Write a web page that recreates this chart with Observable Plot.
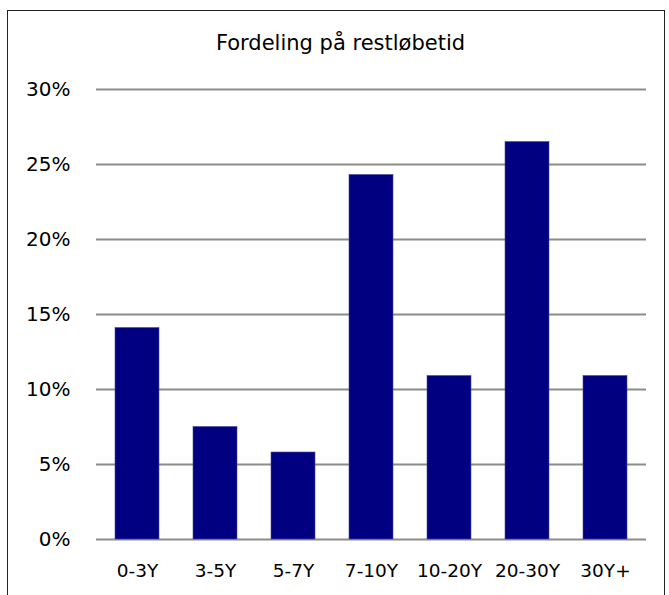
<!DOCTYPE html>
<html>
<head>
<meta charset="utf-8">
<script src="https://cdn.jsdelivr.net/npm/d3@7"></script>
<script src="https://cdn.jsdelivr.net/npm/@observablehq/plot@0.6"></script>
<style>
  html, body { margin: 0; padding: 0; background: #fff; overflow: hidden; }
  #frame {
    position: absolute; left: 7px; top: 10px; width: 658px; height: 600px;
    border: 1px solid #222; box-sizing: border-box;
  }
  #title {
    position: absolute; left: 6px; width: 669px; top: 31px; text-align: center;
    font-family: "DejaVu Sans", Verdana, sans-serif; font-size: 21px; color: #000;
    line-height: normal;
  }
  #chart { position: absolute; left: 0; top: 0; }
</style>
</head>
<body>
<div id="frame"></div>
<div id="chart"></div>
<div id="title">Fordeling på restløbetid</div>
<script>
const categories = ["0-3Y", "3-5Y", "5-7Y", "7-10Y", "10-20Y", "20-30Y", "30Y+"];
const values = [14.1, 7.5, 5.8, 24.3, 10.9, 26.5, 10.9];
const yTicks = [0, 5, 10, 15, 20, 25, 30];

const data = categories.map((c, i) => ({category: c, value: values[i]}));

const chart = Plot.plot({
  width: 669,
  height: 595,
  marginLeft: 96,
  marginRight: 23,
  marginTop: 89,
  marginBottom: 56,
  style: {fontFamily: "'DejaVu Sans', Verdana, sans-serif", fontSize: "18.5px", color: "#000", background: "transparent"},
  x: {domain: categories, paddingInner: 0.433, paddingOuter: 0.2165, label: null},
  y: {domain: [0, 30], label: null},
  marks: [
    Plot.ruleY(yTicks, {stroke: "#8c8c8c", strokeWidth: 2}),
    Plot.barY(data, {x: "category", y: "value", fill: "#000080", stroke: "#4a4aa0", strokeWidth: 0.6}),
    Plot.axisY({ticks: yTicks, tickFormat: d => d + "%", tickSize: 0, tickPadding: 26, fontSize: 20}),
    Plot.axisX({tickSize: 0, tickPadding: 24, fontSize: 18.5})
  ]
});
document.getElementById("chart").appendChild(chart);
</script>
</body>
</html>
